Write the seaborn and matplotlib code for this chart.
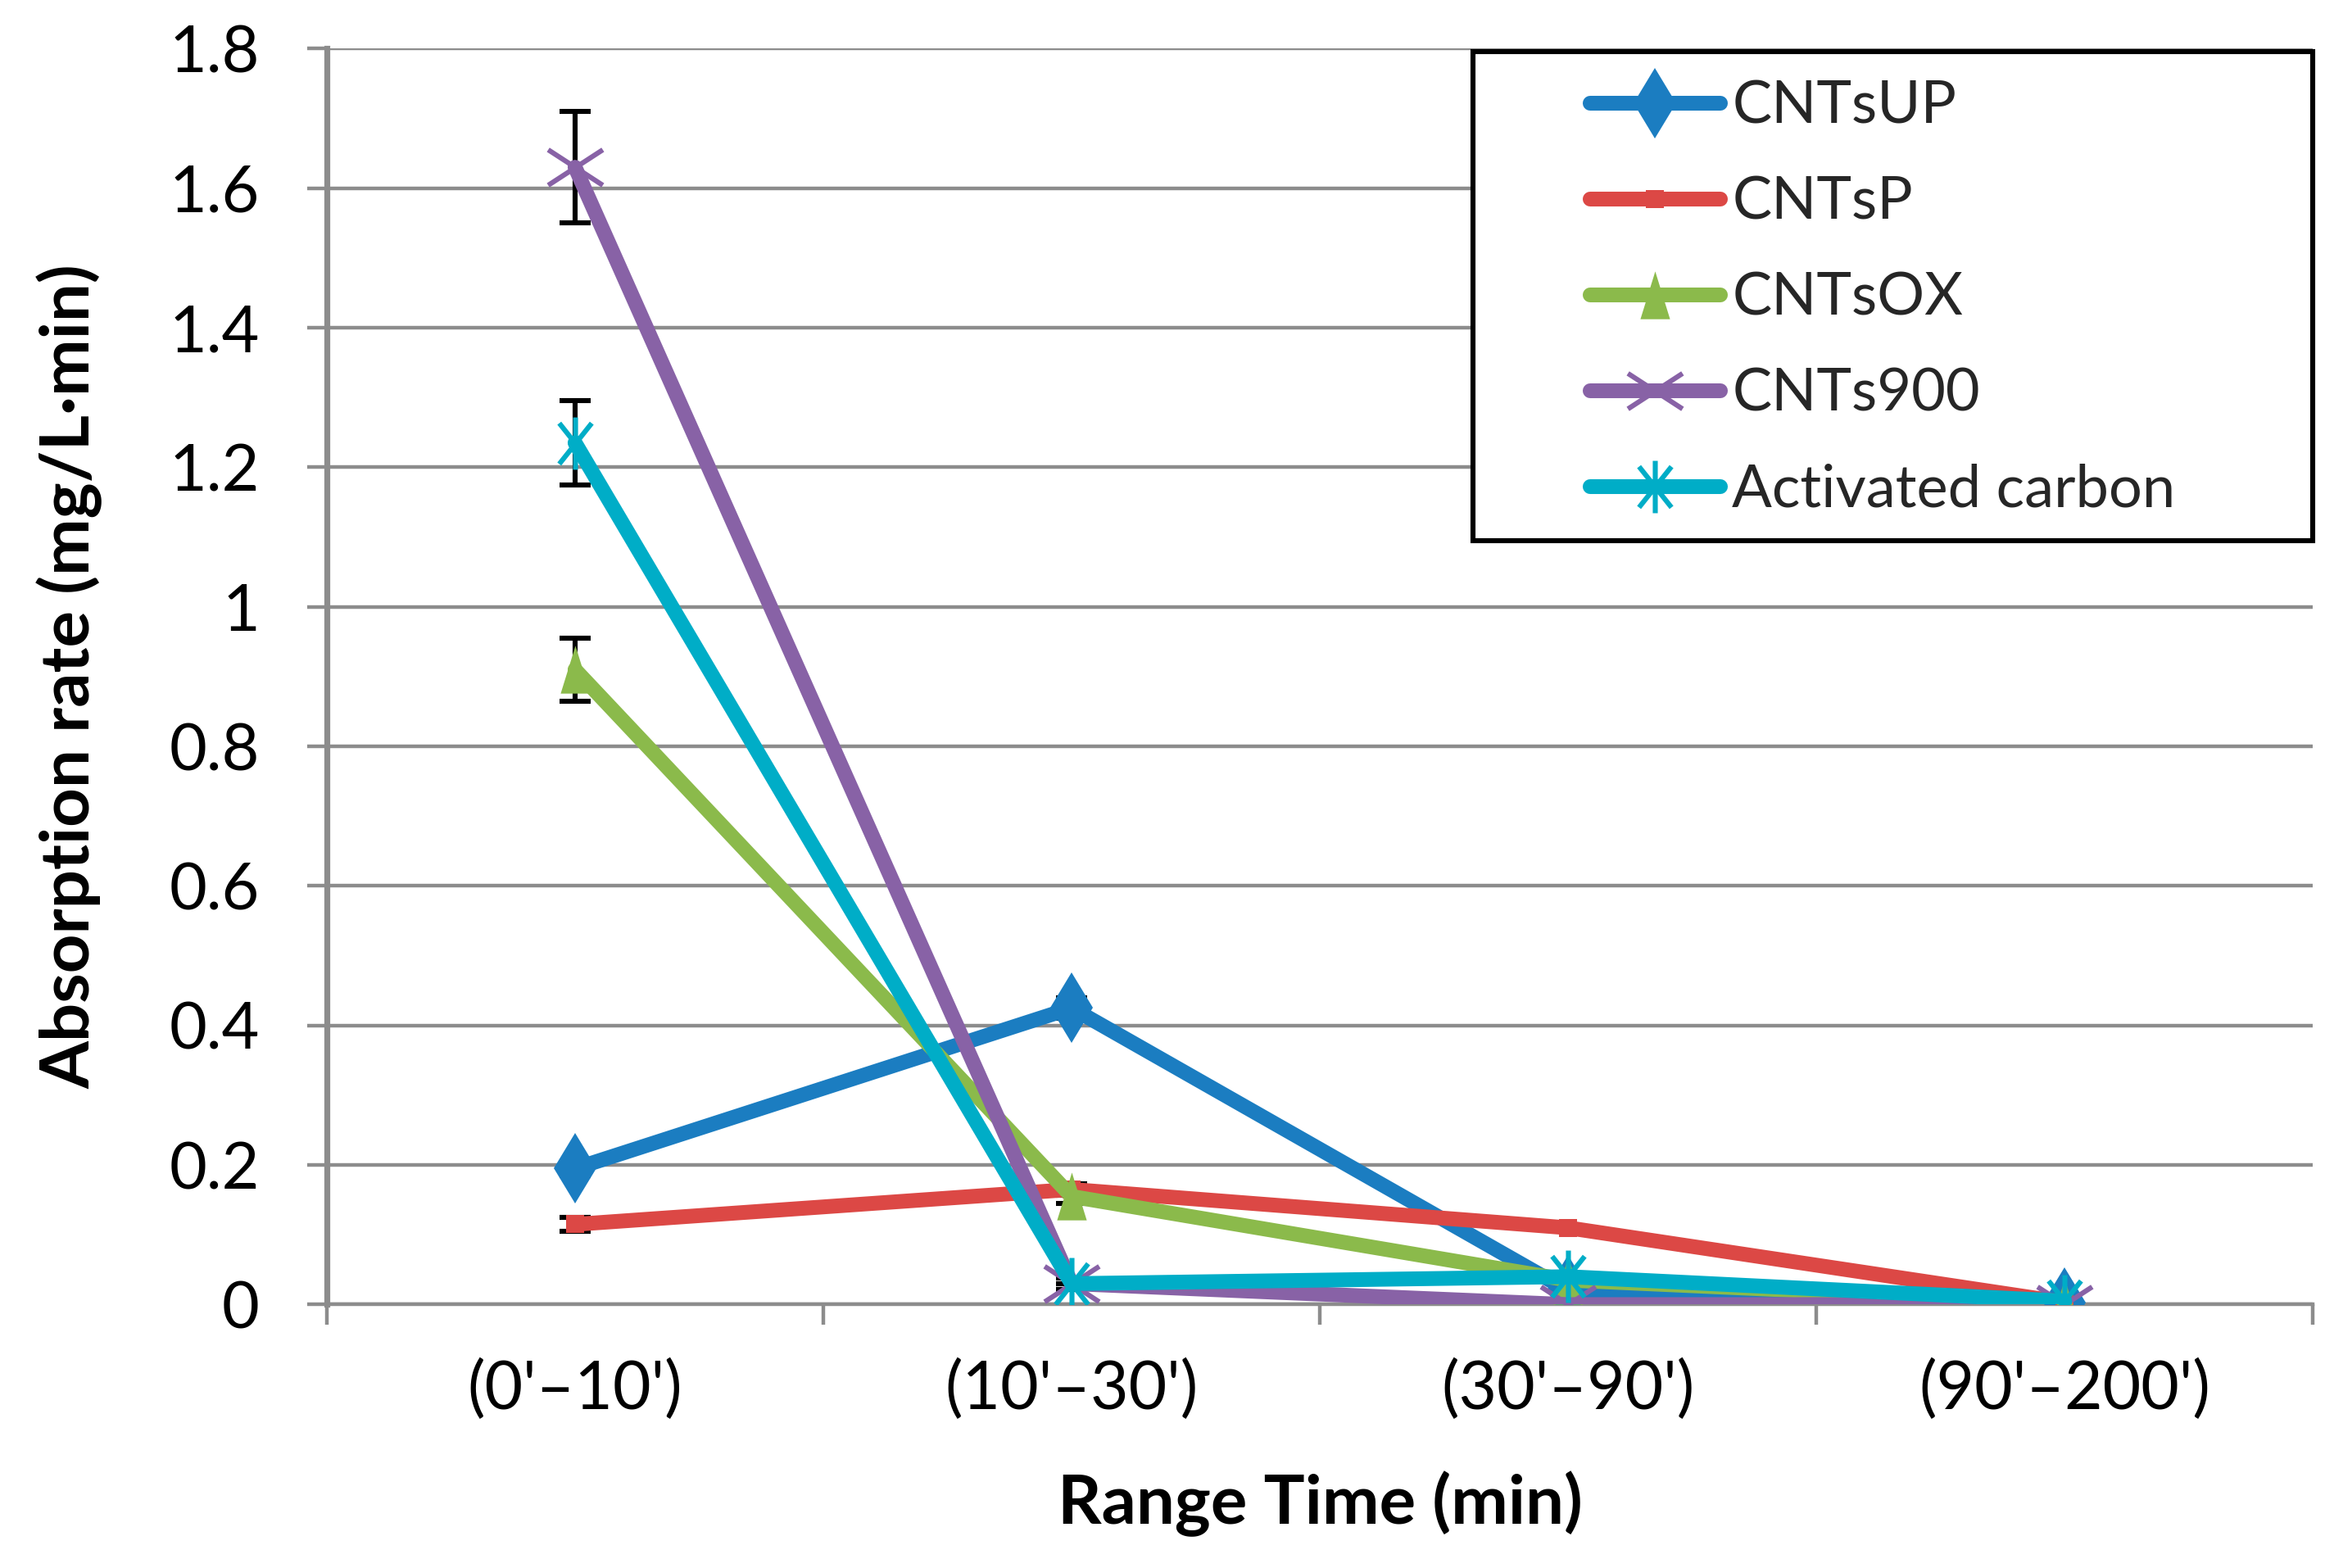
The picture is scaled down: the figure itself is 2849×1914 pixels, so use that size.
import numpy as np
import pandas as pd
import matplotlib
matplotlib.use("Agg")
import matplotlib.pyplot as plt
from matplotlib.path import Path
from matplotlib.patches import Rectangle
import seaborn as sns

categories = ["(0'\u201310')", "(10'\u201330')", "(30'\u201390')", "(90'\u2013200')"]
series_names = ["CNTsUP", "CNTsP", "CNTsOX", "CNTs900", "Activated carbon"]
cntsup = [0.195, 0.425, 0.02, 0.003]
cntsp = [0.115, 0.165, 0.11, 0.003]
cntsox = [0.91, 0.155, 0.035, 0.003]
cnts900 = [1.63, 0.03, 0.0, 0.0]
activated = [1.235, 0.03, 0.04, 0.005]
err_cntsup = [0.01, 0.015, 0.0, 0.0]
err_cntsp = [0.01, 0.008, 0.0, 0.0]
err_cntsox = [0.045, 0.01, 0.0, 0.0]
err_cnts900 = [0.08, 0.0, 0.0, 0.0]
err_activated = [0.06, 0.008, 0.0, 0.0]
yticks = [0, 0.2, 0.4, 0.6, 0.8, 1, 1.2, 1.4, 1.6, 1.8]
ytick_labels = ["0", "0.2", "0.4", "0.6", "0.8", "1", "1.2", "1.4", "1.6", "1.8"]

values = [cntsup, cntsp, cntsox, cnts900, activated]
errors = [err_cntsup, err_cntsp, err_cntsox, err_cnts900, err_activated]
colors = ["#1B7DC1", "#DC4845", "#8BBA4B", "#8862A6", "#00ADC7"]

sns.set_theme(style="white")
plt.rcParams["font.family"] = ["Lato", "DejaVu Sans"]

M, L = Path.MOVETO, Path.LINETO
x_path = Path([(-1, -0.65), (1, 0.65), (-1, 0.65), (1, -0.65)], [M, L, M, L])
ast_path = Path([(0, 1), (0, -1), (-0.62, 0.78), (0.62, -0.78), (-0.62, -0.78), (0.62, 0.78)],
                [M, L, M, L, M, L])
tri_path = [(0, 1), (-0.62, -1), (0.62, -1), (0, 1)]

styles = [
    dict(marker="d", ms=22, mew=0),
    dict(marker="s", ms=8, mew=0),
    dict(marker=tri_path, ms=21, mew=0),
    dict(marker=x_path, ms=24, mew=2.2, mfc="none"),
    dict(marker=ast_path, ms=23, mew=2.2, mfc="none"),
]

fig = plt.figure(figsize=(14.245, 9.57), dpi=200)
ax = fig.add_axes([0.14, 0.168, 0.851, 0.801])

xpos = np.arange(len(categories))
for name, vals, errs, c, st in zip(series_names, values, errors, colors, styles):
    ax.errorbar(xpos, vals, yerr=errs, fmt="none", ecolor="black", elinewidth=2.2,
                capsize=7, capthick=2.2, zorder=2)
for i, (name, vals, c, st) in enumerate(zip(series_names, values, colors, styles)):
    df = pd.DataFrame({"x": xpos, "y": vals})
    sns.lineplot(data=df, x="x", y="y", ax=ax, color=c, linewidth=6.5, label=name,
                 marker=st["marker"], markersize=st["ms"], markeredgewidth=st["mew"],
                 markeredgecolor=c, markerfacecolor=st.get("mfc", c),
                 solid_capstyle="round", zorder=3 + i)

ax.set_xlim(-0.5, 3.5)
ax.set_ylim(0, 1.8)
ax.set_yticks(yticks)
ax.set_yticklabels(ytick_labels)
ax.set_xticks(xpos)
ax.set_xticklabels(categories)
ax.set_xticks([-0.5, 0.5, 1.5, 2.5, 3.5], minor=True)
ax.tick_params(axis="x", which="major", length=0, pad=24, labelsize=29, labelcolor="black")
ax.tick_params(axis="x", which="minor", length=9, width=1.6, color="#8C8C8C", direction="out",
               bottom=True)
ax.tick_params(axis="y", length=8.5, width=1.6, color="#8C8C8C", direction="out",
               labelsize=28.5, labelcolor="black", pad=21, left=True)

ax.grid(axis="y", color="#8C8C8C", linewidth=1.6)
ax.grid(axis="x", visible=False)
ax.set_axisbelow(True)
for s in ["top", "right"]:
    ax.spines[s].set_visible(False)
ax.spines["left"].set_color("#8C8C8C")
ax.spines["left"].set_linewidth(2.6)
ax.spines["bottom"].set_color("#8C8C8C")
ax.spines["bottom"].set_linewidth(1.6)

ax.set_xlabel("Range Time (min)", fontsize=30, fontweight="bold", labelpad=22, color="black")
ax.set_ylabel("Absorption rate (mg/L\u00b7min)", fontsize=30, fontweight="bold", labelpad=29,
              color="black")

frame = Rectangle((0.577, 0.608), 0.423, 0.3895, transform=ax.transAxes, facecolor="white",
                  edgecolor="black", linewidth=2.2, zorder=10, clip_on=False)
ax.add_patch(frame)
leg = ax.legend(loc="center left", bbox_to_anchor=(0.636, 0.801), fontsize=26, frameon=False,
                handlelength=2.2, handletextpad=0.2, labelspacing=0.72, borderpad=0,
                borderaxespad=0)
leg.set_zorder(11)

fig.savefig("out.png", dpi=200)
